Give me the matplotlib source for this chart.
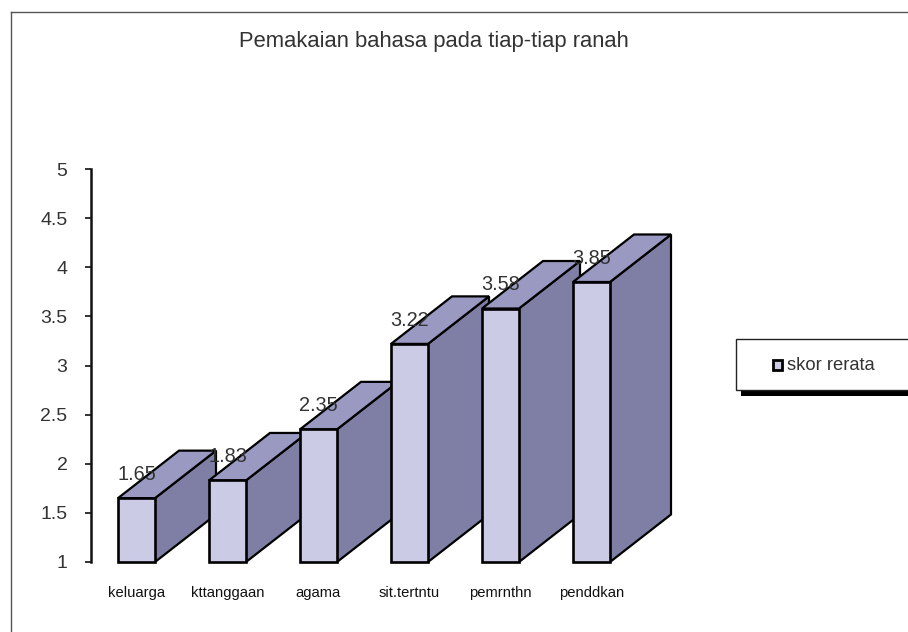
import matplotlib
matplotlib.use("Agg")
import matplotlib.pyplot as plt
from matplotlib.patches import Polygon, Rectangle

plt.rcParams['font.family'] = ['Liberation Sans', 'DejaVu Sans']

categories = ["keluarga", "kttanggaan", "agama", "sit.tertntu", "pemrnthn", "penddkan"]
values = [1.65, 1.83, 2.35, 3.22, 3.58, 3.85]
value_labels = ["1.65", "1.83", "2.35", "3.22", "3.58", "3.85"]
yticks = [1, 1.5, 2, 2.5, 3, 3.5, 4, 4.5, 5]
ytick_labels = ["1", "1.5", "2", "2.5", "3", "3.5", "4", "4.5", "5"]
title = "Pemakaian bahasa pada tiap-tiap ranah"
legend_label = "skor rerata"

FRONT = "#CBCBE6"
TOP = "#9999C2"
SIDE = "#7F7FA6"
TEXT = "#333333"
W, H = 908, 632

fig = plt.figure(figsize=(W / 100, H / 100), dpi=100, facecolor="white")


def fx(px):
    return px / W


def fy(py):
    return 1 - py / H


# Axes placed in pixel terms
ax = fig.add_axes([fx(91), fy(562), fx(637) - fx(91), fy(169) - fy(562)])
ax.patch.set_visible(False)
ax.set_xlim(-0.5, 5.5)
ax.set_ylim(1, 5)

bar_w = 37 / 91
depth_x = 61 / 91
depth_y = 47.5 / 98.25
edge_lw = 1.6

for i, v in enumerate(values):
    x0, x1 = i - bar_w / 2, i + bar_w / 2
    z = 2 + i
    ax.add_patch(Polygon([(x1, 1), (x1 + depth_x, 1 + depth_y), (x1 + depth_x, v + depth_y), (x1, v)],
                         closed=True, fc=SIDE, ec="black", lw=edge_lw, zorder=z, clip_on=False, joinstyle="miter"))
    ax.add_patch(Polygon([(x0, v), (x0 + depth_x, v + depth_y), (x1 + depth_x, v + depth_y), (x1, v)],
                         closed=True, fc=TOP, ec="black", lw=edge_lw, zorder=z, clip_on=False, joinstyle="miter"))
    ax.bar(i, v - 1, bottom=1, width=bar_w, color=FRONT, edgecolor="black", linewidth=edge_lw + 0.3,
           zorder=z, clip_on=False)

for i, (v, lab) in enumerate(zip(values, value_labels)):
    ax.annotate(lab, (i, v), xytext=(0, 17), textcoords="offset points", ha="center", va="center",
                fontsize=14.3, color=TEXT, zorder=20, annotation_clip=False)

for s in ("top", "right", "bottom"):
    ax.spines[s].set_visible(False)
ax.spines["left"].set_linewidth(1.8)
ax.spines["left"].set_color("#111111")
ax.set_yticks(yticks)
ax.set_yticklabels(ytick_labels, fontsize=14, color=TEXT)
ax.tick_params(axis="y", length=4.5, width=1.2, pad=12.5, color="#111111")
ax.set_xticks(range(len(categories)))
ax.set_xticklabels(categories, fontsize=10.6, color="#111111")
ax.tick_params(axis="x", length=0, pad=17)

# Outer frame (only top and left show)
fig.add_artist(plt.Line2D([fx(11), fx(11)], [0, fy(12)], color="#555555", lw=1.0))
fig.add_artist(plt.Line2D([fx(11), 1], [fy(12), fy(12)], color="#555555", lw=1.0))

fig.text(fx(433.5), fy(41), title, ha="center", va="center", fontsize=15.8, color=TEXT)

# Legend, cut by the right edge of the picture
fig.add_artist(Rectangle((fx(741), fy(396)), fx(200), fy(339) - fy(396), fc="black", ec="none",
                         transform=fig.transFigure))
fig.add_artist(Rectangle((fx(736), fy(390)), fx(200), fy(339) - fy(390), fc="white", ec="#222222", lw=1.0,
                         transform=fig.transFigure))
fig.add_artist(Rectangle((fx(772.5), fy(369.5)), fx(9), fy(360) - fy(369.5), fc=FRONT, ec="black", lw=2.0,
                         transform=fig.transFigure))
fig.text(fx(787), fy(365), legend_label, ha="left", va="center", fontsize=13.2, color=TEXT)

fig.savefig("out.png", dpi=100)
